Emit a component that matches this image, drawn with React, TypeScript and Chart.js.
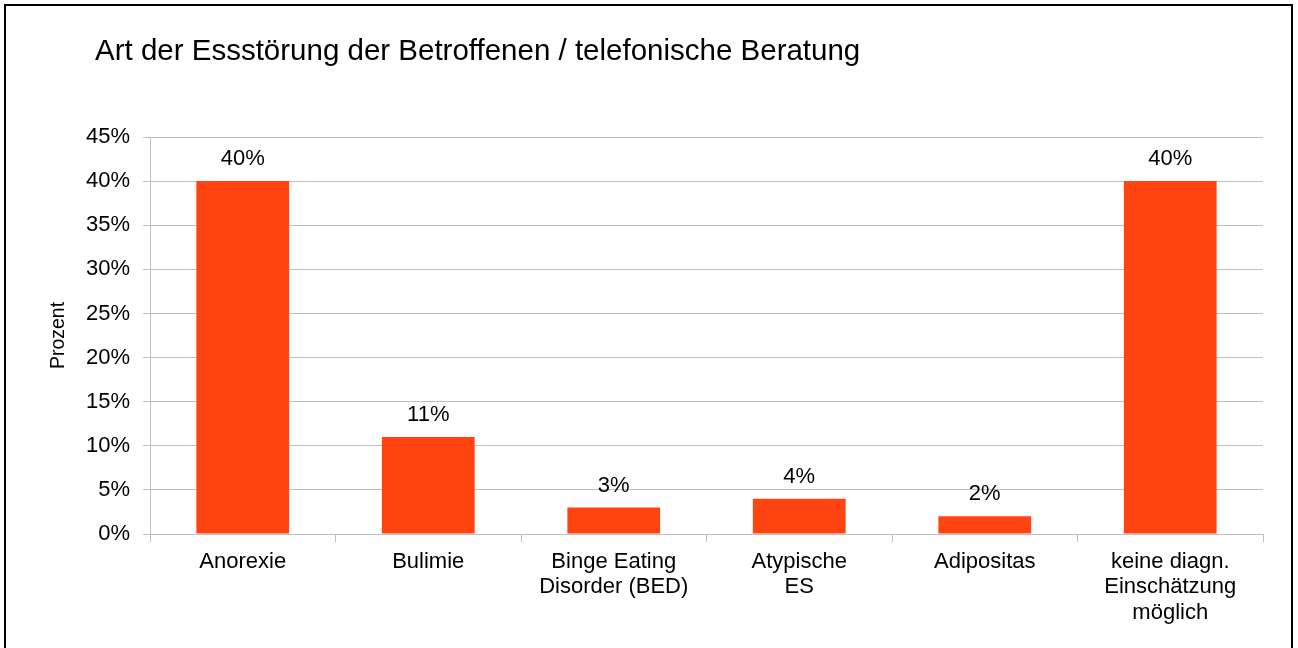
import React, { useEffect, useRef } from "react";
import { Chart, registerables } from "chart.js";

Chart.register(...registerables);

const TITLE = "Art der Essstörung der Betroffenen / telefonische Beratung";
const Y_TITLE = "Prozent";
const categories: string[][] = [
  ["Anorexie"],
  ["Bulimie"],
  ["Binge Eating", "Disorder (BED)"],
  ["Atypische", "ES"],
  ["Adipositas"],
  ["keine diagn.", "Einschätzung", "möglich"],
];
const values: number[] = [40, 11, 3, 4, 2, 40];
const yMin = 0;
const yMax = 45;
const yStep = 5;

const FONT = '"Liberation Sans", Arial, Helvetica, sans-serif';
const BAR = "#FF4411";
const GRID = "#BFBFBF";

export default function App() {
  const ref = useRef<HTMLCanvasElement>(null);

  useEffect(() => {
    const canvas = ref.current;
    if (!canvas) return;

    const labelPlugin = {
      id: "valueLabels",
      afterDatasetsDraw(chart: any) {
        const ctx = chart.ctx;
        const meta = chart.getDatasetMeta(0);
        ctx.save();
        ctx.font = `22px ${FONT}`;
        ctx.fillStyle = "#000";
        ctx.textAlign = "center";
        ctx.textBaseline = "middle";
        meta.data.forEach((bar: any, i: number) => {
          ctx.fillText(`${values[i]}%`, bar.x, bar.y - 22);
        });
        ctx.restore();
      },
    };

    const titlePlugin = {
      id: "titleText",
      afterDraw(chart: any) {
        const ctx = chart.ctx;
        ctx.save();
        ctx.font = `29.5px ${FONT}`;
        ctx.fillStyle = "#000";
        ctx.textAlign = "left";
        ctx.textBaseline = "alphabetic";
        ctx.fillText(TITLE, 95, 60);
        ctx.restore();
      },
    };

    const chart = new Chart(canvas, {
      type: "bar",
      data: {
        labels: categories,
        datasets: [
          {
            data: values,
            backgroundColor: BAR,
            borderWidth: 0,
            barPercentage: 0.5,
            categoryPercentage: 1,
          },
        ],
      },
      options: {
        responsive: false,
        animation: false,
        layout: { padding: { left: 0, top: 137, right: 35, bottom: 0 } },
        plugins: {
          legend: { display: false },
          tooltip: { enabled: false },
          title: { display: false },
        },
        scales: {
          x: {
            grid: {
              offset: true,
              drawOnChartArea: true,
              color: (c: any) =>
                c.index === categories.length ? GRID : "rgba(0,0,0,0)",
              tickColor: GRID,
              tickLength: 8,
              lineWidth: 1,
            },
            border: { display: true, color: GRID, width: 1 },
            ticks: {
              color: "#000",
              font: { family: FONT, size: 22, lineHeight: 1.16 },
              padding: 7,
              maxRotation: 0,
              autoSkip: false,
            },
            afterFit: (s: any) => {
              s.height = 114;
            },
          },
          y: {
            min: yMin,
            max: yMax,
            ticks: {
              stepSize: yStep,
              callback: (v: any) => `${v}%`,
              color: "#000",
              font: { family: FONT, size: 22 },
              padding: 13,
            },
            grid: { color: GRID, tickLength: 7, lineWidth: 1 },
            border: { display: true, color: GRID, width: 1 },
            title: {
              display: true,
              text: Y_TITLE,
              color: "#000",
              font: { family: FONT, size: 19.5, lineHeight: 1.2 },
              padding: { top: 47, bottom: 0 },
            },
            afterFit: (s: any) => {
              s.width = 150;
            },
          },
        },
      },
      plugins: [labelPlugin, titlePlugin],
    } as any);

    return () => chart.destroy();
  }, []);

  return (
    <div
      style={{
        position: "absolute",
        left: 0,
        top: 0,
        width: 1298,
        height: 648,
        overflow: "hidden",
        background: "#fff",
      }}
    >
      <div
        style={{
          position: "absolute",
          left: 4,
          top: 4,
          width: 1285,
          height: 700,
          border: "2px solid #000",
        }}
      />
      <canvas
        ref={ref}
        width={1298}
        height={648}
        style={{ position: "absolute", left: 0, top: 0, display: "block" }}
      />
    </div>
  );
}
